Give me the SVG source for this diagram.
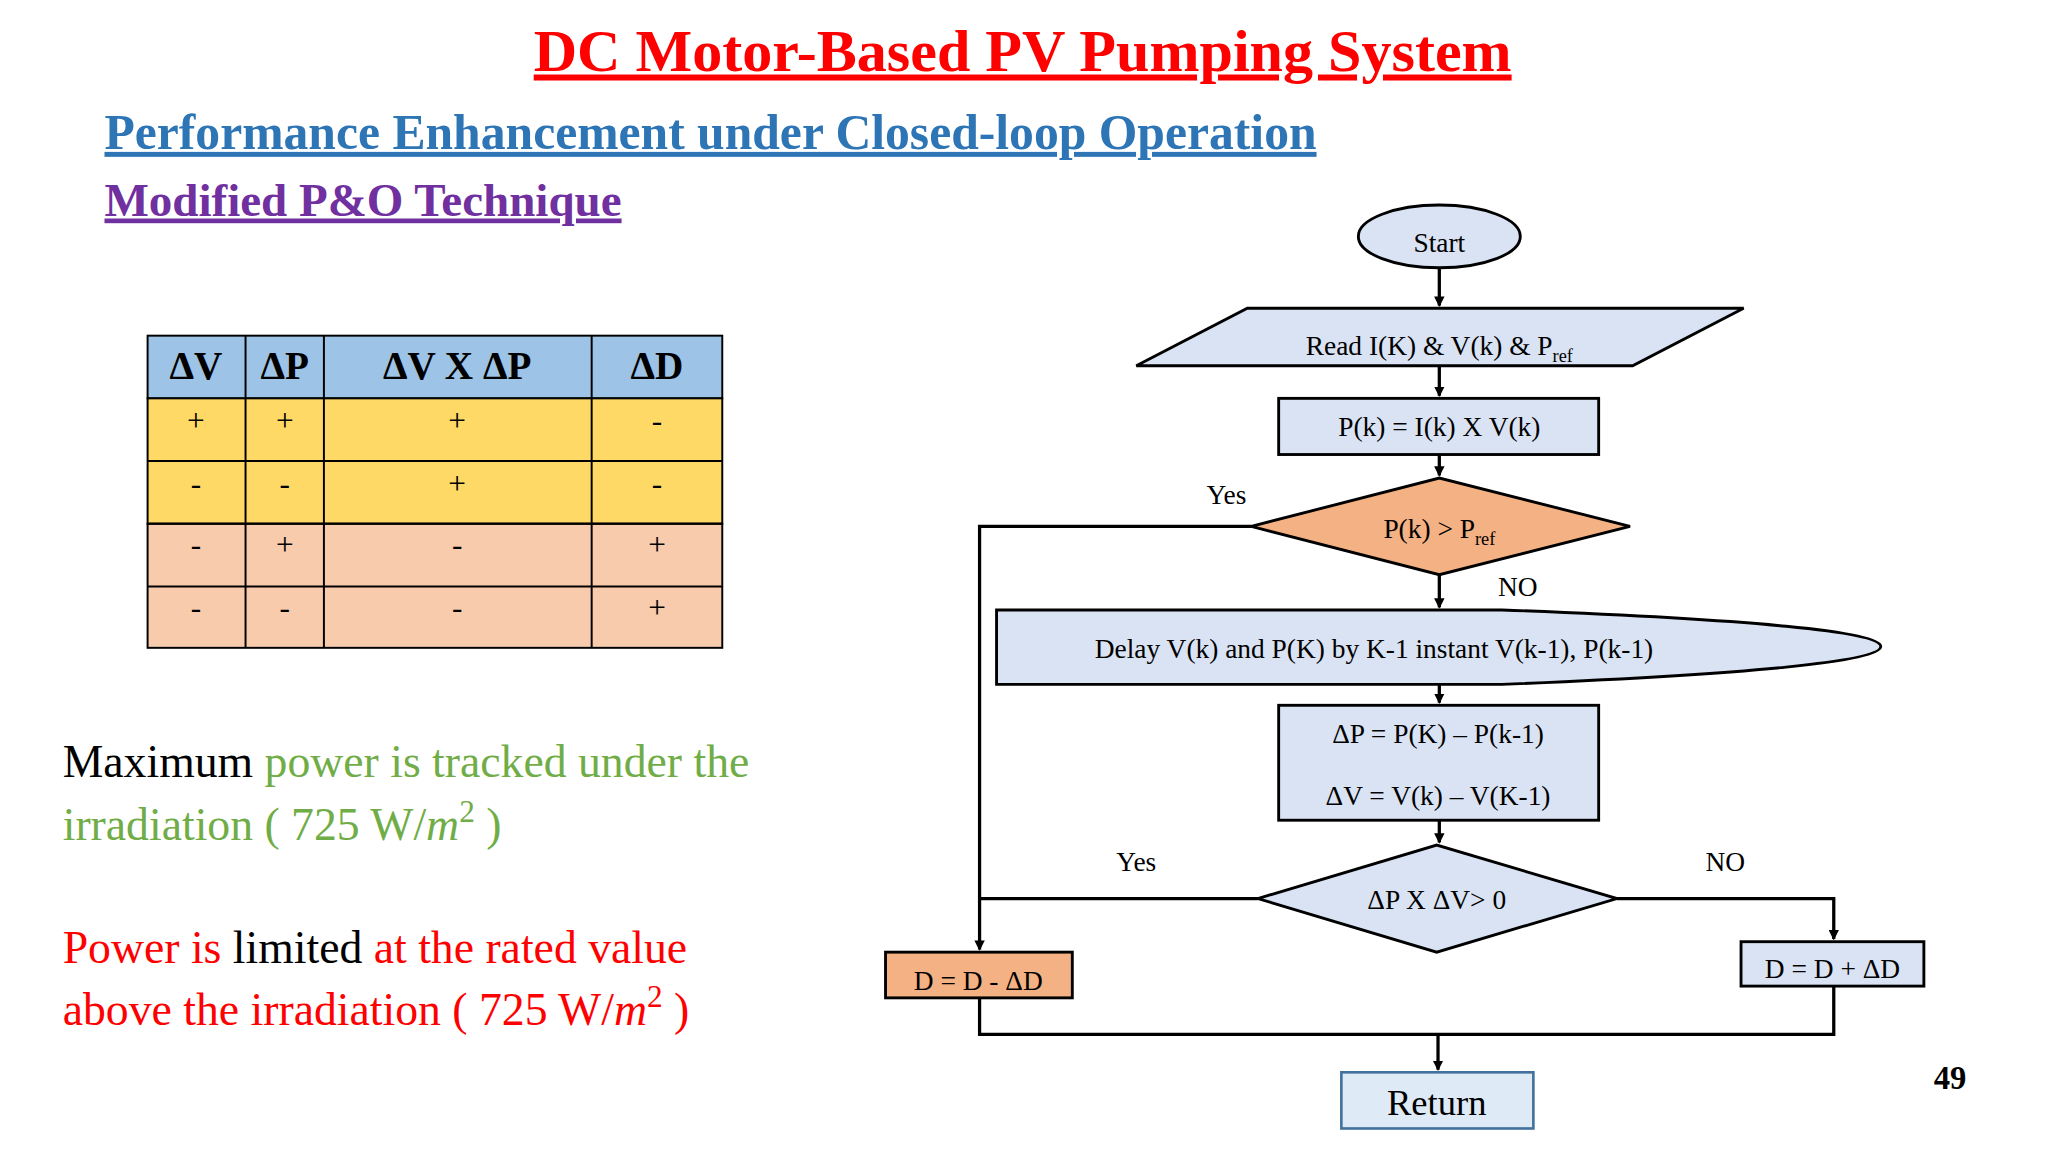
<svg xmlns="http://www.w3.org/2000/svg" width="2048" height="1152" viewBox="0 0 2048 1152">
<defs>
<marker id="ar" markerWidth="8" markerHeight="8" refX="7" refY="4" orient="auto" markerUnits="userSpaceOnUse"><path d="M0,0 L8,4 L0,8 Z" fill="#000"/></marker>
<style>
text{font-family:"Liberation Serif","Times New Roman",serif}
.fc{font-size:21px;text-anchor:middle}
.tb{font-size:24px;text-anchor:middle}
.th{font-size:30px;font-weight:bold;text-anchor:middle}
.n{stroke:#000;stroke-width:2.2}
.c{fill:none;stroke:#000;stroke-width:2.5}
.cell{stroke:#000;stroke-width:1.5}
.big{font-size:35px}
</style>
</defs>
<rect width="2048" height="1152" fill="#fff"/>
<g transform="scale(1.3061)">
<g id="titles">
<text x="783" y="54" font-size="46" font-weight="bold" fill="#FF0000" text-anchor="middle" text-decoration="underline">DC Motor-Based PV Pumping System</text>
<text x="80" y="114" font-size="38" font-weight="bold" fill="#2E75B6" text-decoration="underline">Performance Enhancement under Closed-loop Operation</text>
<text x="80" y="165" font-size="36" font-weight="bold" fill="#7030A0" text-decoration="underline">Modified P&amp;O Technique</text>
</g>
<g id="table">
<rect class="cell" x="113" y="257" width="440" height="48" fill="#9DC3E6"/>
<rect class="cell" x="113" y="305" width="440" height="96" fill="#FFD966"/>
<rect class="cell" x="113" y="401" width="440" height="95" fill="#F8CBAD"/>
<path class="cell" d="M188,257V496M248,257V496M453,257V496M113,353H553M113,401H553M113,449H553"/>
<text class="th" x="150" y="290">ΔV</text><text class="th" x="218" y="290">ΔP</text><text class="th" x="350" y="290">ΔV X ΔP</text><text class="th" x="503" y="290">ΔD</text>
<text class="tb" x="150" y="330">+</text><text class="tb" x="218" y="330">+</text><text class="tb" x="350" y="330">+</text><text class="tb" x="503" y="330">-</text>
<text class="tb" x="150" y="378">-</text><text class="tb" x="218" y="378">-</text><text class="tb" x="350" y="378">+</text><text class="tb" x="503" y="378">-</text>
<text class="tb" x="150" y="425">-</text><text class="tb" x="218" y="425">+</text><text class="tb" x="350" y="425">-</text><text class="tb" x="503" y="425">+</text>
<text class="tb" x="150" y="473">-</text><text class="tb" x="218" y="473">-</text><text class="tb" x="350" y="473">-</text><text class="tb" x="503" y="473">+</text>
</g>
<g id="notes">
<text class="big" x="48" y="595"><tspan fill="#000">Maximum </tspan><tspan fill="#70AD47">power is tracked under the</tspan></text>
<text class="big" x="48" y="643" fill="#70AD47">irradiation ( 725 W/<tspan font-style="italic">m</tspan><tspan font-size="24" dy="-14">2</tspan><tspan dy="14"> )</tspan></text>
<text class="big" x="48" y="737"><tspan fill="#FF0000">Power is </tspan><tspan fill="#000">limited</tspan><tspan fill="#FF0000"> at the rated value</tspan></text>
<text class="big" x="48" y="785" fill="#FF0000">above the irradiation ( 725 W/<tspan font-style="italic">m</tspan><tspan font-size="24" dy="-14">2</tspan><tspan dy="14"> )</tspan></text>
</g>
<g id="connectors">
<path class="c" d="M1102,205V234" marker-end="url(#ar)"/>
<path class="c" d="M1102,280V303" marker-end="url(#ar)"/>
<path class="c" d="M1102,348V364" marker-end="url(#ar)"/>
<path class="c" d="M1102,440V465" marker-end="url(#ar)"/>
<path class="c" d="M1102,524V538" marker-end="url(#ar)"/>
<path class="c" d="M1102,628V645" marker-end="url(#ar)"/>
<path class="c" d="M958,403H750V727" marker-end="url(#ar)"/>
<path class="c" d="M963,688H750"/>
<path class="c" d="M1238,688H1404V719" marker-end="url(#ar)"/>
<path class="c" d="M750,764V792H1404V755"/>
<path class="c" d="M1101,792V819" marker-end="url(#ar)"/>
<text class="fc" x="939" y="386">Yes</text>
<text class="fc" x="1162" y="456">NO</text>
<text class="fc" x="870" y="667">Yes</text>
<text class="fc" x="1321" y="667">NO</text>
</g>
<g id="start"><ellipse class="n" cx="1102" cy="181" rx="62" ry="24" fill="#DAE3F3"/><text class="fc" x="1102" y="193">Start</text></g>
<g id="read"><polygon class="n" points="870,280 955,236 1335,236 1250,280" fill="#DAE3F3"/><text class="fc" x="1102" y="272">Read I(K) &amp; V(k) &amp; P<tspan font-size="14" dy="5">ref</tspan></text></g>
<g id="power"><rect class="n" x="979" y="305" width="245" height="43" fill="#DAE3F3"/><text class="fc" x="1102" y="334">P(k) = I(k) X V(k)</text></g>
<g id="cmp1"><polygon class="n" points="958,403 1102,366 1248,403 1102,440" fill="#F4B183"/><text class="fc" x="1102" y="412">P(k) &gt; P<tspan font-size="14" dy="5">ref</tspan></text></g>
<g id="delay"><path class="n" d="M763,467 L1150,467 Q1440,478 1440,495 Q1440,512 1150,524 L763,524 Z" fill="#DAE3F3"/><text class="fc" x="1052" y="504">Delay V(k) and P(K) by K-1 instant V(k-1), P(k-1)</text></g>
<g id="delta"><rect class="n" x="979" y="540" width="245" height="88" fill="#DAE3F3"/><text class="fc" x="1101" y="569">ΔP = P(K) – P(k-1)</text><text class="fc" x="1101" y="616">ΔV = V(k) – V(K-1)</text></g>
<g id="cmp2"><polygon class="n" points="963,688 1100,647 1238,688 1100,729" fill="#DAE3F3"/><text class="fc" x="1100" y="696">ΔP X ΔV&gt; 0</text></g>
<g id="dec"><rect class="n" x="678" y="729" width="143" height="35" fill="#F4B183"/><text class="fc" x="749" y="758">D = D - ΔD</text></g>
<g id="inc"><rect class="n" x="1333" y="721" width="140" height="34" fill="#DAE3F3"/><text class="fc" x="1403" y="749">D = D + ΔD</text></g>
<g id="return"><rect x="1027" y="821" width="147" height="43" fill="#DEEBF7" stroke="#41719C" stroke-width="2"/><text x="1100" y="854" font-size="28" text-anchor="middle">Return</text></g>
<text x="1493" y="834" font-family="Liberation Sans,Arial,sans-serif" font-size="25" font-weight="bold" text-anchor="middle">49</text>
</g>
</svg>
